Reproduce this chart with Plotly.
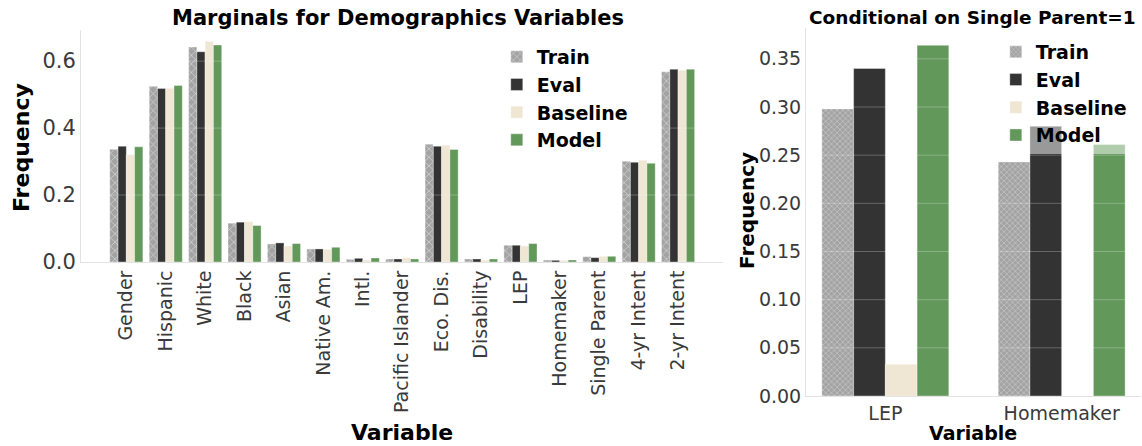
import plotly.graph_objects as go

# ---------------- data ----------------
categories = ["Gender", "Hispanic", "White", "Black", "Asian", "Native Am.", "Intl.",
              "Pacific Islander", "Eco. Dis.", "Disability", "LEP", "Homemaker",
              "Single Parent", "4-yr Intent", "2-yr Intent"]
train_vals = [0.337, 0.525, 0.642, 0.116, 0.054, 0.039, 0.008, 0.009, 0.352, 0.009, 0.050, 0.006, 0.016, 0.301, 0.568]
eval_vals = [0.346, 0.518, 0.628, 0.119, 0.057, 0.039, 0.011, 0.009, 0.346, 0.009, 0.050, 0.005, 0.013, 0.298, 0.576]
baseline_vals = [0.320, 0.519, 0.659, 0.121, 0.048, 0.038, 0.006, 0.013, 0.349, 0.006, 0.048, 0.005, 0.017, 0.304, 0.573]
model_vals = [0.344, 0.527, 0.648, 0.109, 0.055, 0.044, 0.012, 0.009, 0.336, 0.009, 0.055, 0.006, 0.017, 0.295, 0.576]

cond_categories = ["LEP", "Homemaker"]
cond_train = [0.298, 0.243]
cond_eval = [0.340, 0.280]
cond_baseline = [0.033, 0.0]
cond_model = [0.364, 0.261]

series_names = ["Train", "Eval", "Baseline", "Model"]
left_ticks = [0.0, 0.2, 0.4, 0.6]
right_ticks = [0.0, 0.05, 0.10, 0.15, 0.20, 0.25, 0.30, 0.35]

# ---------------- style ----------------
FONT = "DejaVu Sans"
TICK_COLOR = "#3a3a3a"
colors = {"Train": "#a3a3a3", "Eval": "#333333", "Baseline": "#efe6d4", "Model": "#62985a"}
W = 1142
H = 446

fig = go.Figure()

def add_series(cats, vals_list, xa, ya, bw, legend, pat_size):
    n = len(vals_list)
    for i, (name, vals) in enumerate(zip(series_names, vals_list)):
        marker = dict(color=colors[name], line=dict(color="rgba(255,255,255,0.6)", width=0.6))
        if name == "Train":
            marker["pattern"] = dict(shape="x", fgcolor="white", bgcolor=colors[name],
                                     size=pat_size, solidity=0.25, fillmode="overlay")
        fig.add_trace(go.Bar(
            x=cats, y=vals, name=name, xaxis=xa, yaxis=ya,
            width=bw, offset=-bw * n / 2 + i * bw,
            marker=marker, legend=legend, legendgroup=legend + name,
        ))

add_series(categories, [train_vals, eval_vals, baseline_vals, model_vals], "x", "y", 0.21, "legend", 6)
add_series(cond_categories, [cond_train, cond_eval, cond_baseline, cond_model], "x2", "y2", 0.18, "legend2", 4)

# gridlines drawn above bars (as in reference)
for t in left_ticks[1:]:
    fig.add_shape(type="line", xref="x domain", yref="y", x0=0, x1=1, y0=t, y1=t,
                  line=dict(color="rgba(255,255,255,0.25)", width=1), layer="above")
for t in right_ticks[1:]:
    fig.add_shape(type="line", xref="x2 domain", yref="y2", x0=0, x1=1, y0=t, y1=t,
                  line=dict(color="rgba(255,255,255,0.25)", width=1), layer="above")

axis_common = dict(showgrid=False, zeroline=False, ticks="", showline=True,
                   linecolor="#e3e3e3", linewidth=1, automargin=False)

fig.update_layout(
    width=W, height=H,
    margin=dict(l=0, r=0, t=0, b=0, autoexpand=False),
    paper_bgcolor="white", plot_bgcolor="white",
    font=dict(family=FONT, color=TICK_COLOR),
    barmode="overlay",
    xaxis=dict(domain=[81 / W, 723 / W], anchor="y", type="category",
               range=[-1.15, 15.14], tickangle=-90,
               tickfont=dict(size=19, color=TICK_COLOR), **axis_common),
    yaxis=dict(domain=[1 - 262 / H, 1 - 30 / H], anchor="x", range=[0, 0.693],
               tickvals=left_ticks, tickformat=".1f",
               tickfont=dict(size=21, color=TICK_COLOR), **axis_common),
    xaxis2=dict(domain=[806 / W, 1141 / W], anchor="y2", type="category",
                range=[-0.45, 1.45],
                tickfont=dict(size=19, color=TICK_COLOR), **axis_common),
    yaxis2=dict(domain=[1 - 396 / H, 1 - 28 / H], anchor="x2", range=[0, 0.382],
                tickvals=right_ticks, tickformat=".2f",
                tickfont=dict(size=19, color=TICK_COLOR), **axis_common),
    legend=dict(x=0.435, y=0.915, xanchor="left", yanchor="top",
                bgcolor="rgba(255,255,255,0.5)", borderwidth=0,
                font=dict(family=FONT, size=19, color="black", weight="bold"),
                tracegroupgap=0, itemwidth=30),
    legend2=dict(x=0.872, y=0.926, xanchor="left", yanchor="top",
                 bgcolor="rgba(255,255,255,0.5)", borderwidth=0,
                 font=dict(family=FONT, size=19, color="black", weight="bold"),
                 tracegroupgap=0, itemwidth=30),
    showlegend=True,
)

def text(x, y, s, size, angle=0):
    fig.add_annotation(x=x / W, y=1 - y / H, xref="paper", yref="paper", text=s,
                       showarrow=False, textangle=angle, xanchor="center", yanchor="middle",
                       font=dict(family=FONT, size=size, color="black", weight="bold"))

text(398, 18, "Marginals for Demographics Variables", 21)
text(972, 17, "Conditional on Single Parent=1", 18.5)
text(402, 432, "Variable", 22)
text(973, 433, "Variable", 19)
text(21, 148, "Frequency", 22, -90)
text(747, 210, "Frequency", 20, -90)

fig.write_html("out.html", config={"displayModeBar": False},
               post_script="document.body.style.margin='0';document.body.style.overflow='hidden';")
